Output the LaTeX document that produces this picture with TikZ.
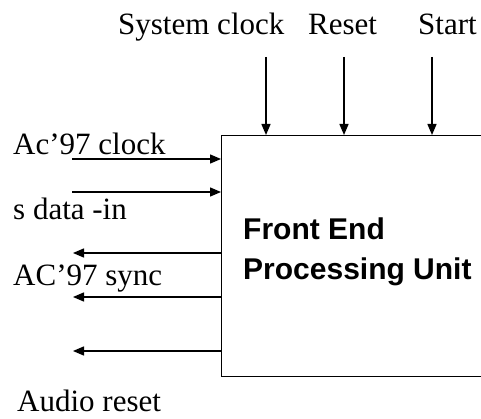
\documentclass[tikz,border=0pt]{standalone}
\usepackage{fontspec}
\setmainfont{Liberation Serif}
\newfontfamily\boxfont{Liberation Sans}
\usetikzlibrary{arrows.meta}
\begin{document}
\begin{tikzpicture}[x=1pt,y=-1pt,
  lbl/.style={anchor=base west,inner sep=0pt,font=\fontsize{31}{31}\selectfont},
  ttl/.style={anchor=base west,inner sep=0pt,font=\boxfont\bfseries\fontsize{30}{30}\selectfont},
  sig/.style={line width=1.4pt,-{Triangle[length=11pt,width=9pt]}},
  unitbox/.style={draw,line width=1.4pt,minimum width=280pt,minimum height=241pt,inner sep=0pt}]
\useasboundingbox (0,0) rectangle (481,419);
\clip (0,0) rectangle (481,419);
\node[unitbox,anchor=north west] (box) at (221,135) {};
\node[ttl] (title1) at (243,240) {Front End};
\node[ttl] (title2) at (243,279) {Processing Unit};
% top labels
\node[lbl] (sysclk) at (118,35) {System clock};
\node[lbl] (reset) at (308,35) {Reset};
\node[lbl] (start) at (418,35) {Start};
\coordinate (t1) at (266,57);
\coordinate (t2) at (344,57);
\coordinate (t3) at (432,57);
\draw[sig] (t1) -- (t1 |- box.north);
\draw[sig] (t2) -- (t2 |- box.north);
\draw[sig] (t3) -- (t3 |- box.north);
% left labels
\node[lbl] (acclk) at (13,155) {Ac’97 clock};
\node[lbl] (sdata) at (13,220) {s data -in};
\node[lbl] (acsync) at (13,285) {AC’97 sync};
\node[lbl] (areset) at (17,411) {Audio reset};
\coordinate (i1) at (72,159);
\coordinate (i2) at (72,192);
\coordinate (o1) at (73,253);
\coordinate (o2) at (73,297);
\coordinate (o3) at (73,351);
\draw[sig] (i1) -- (i1 -| box.west);
\draw[sig] (i2) -- (i2 -| box.west);
\draw[sig] (o1 -| box.west) -- (o1);
\draw[sig] (o2 -| box.west) -- (o2);
\draw[sig] (o3 -| box.west) -- (o3);
\end{tikzpicture}
\end{document}
